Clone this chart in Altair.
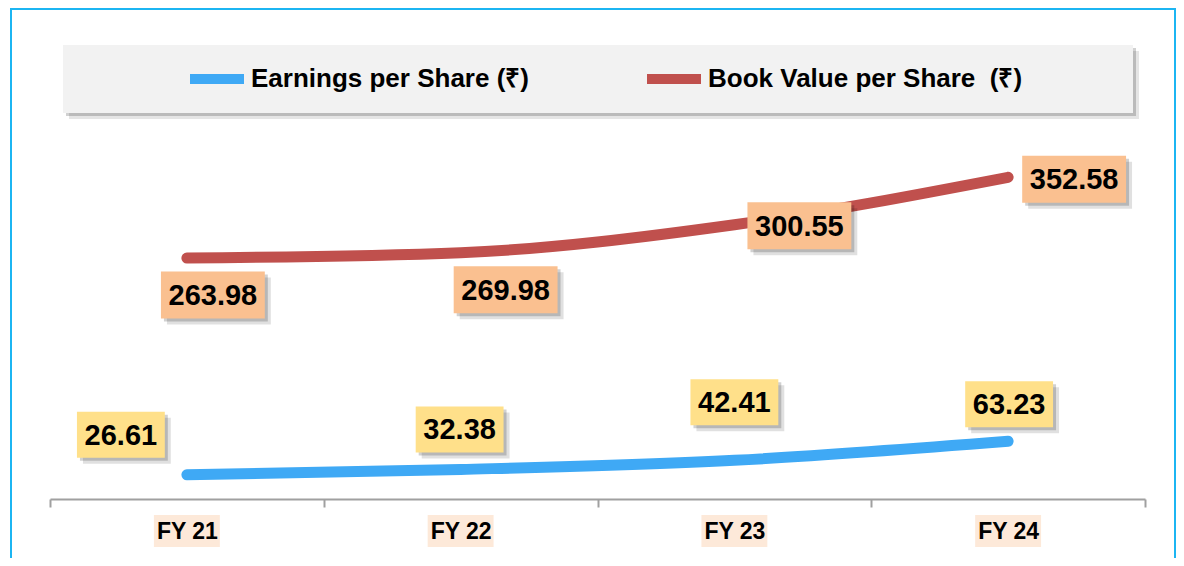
import altair as alt
import pandas as pd

# ---- data ----
categories = ["FY 21", "FY 22", "FY 23", "FY 24"]
eps_name = "Earnings per Share (₹)"
bvps_name = "Book Value per Share\u00a0 (₹)"
eps_values = [26.61, 32.38, 42.41, 63.23]
bvps_values = [263.98, 269.98, 300.55, 352.58]

# ---- layout (label offsets in pixels, not data) ----
eps_label_dx = [-66, -1, 0, 1]
eps_label_dy = [-40, -40, -58, -37]
bvps_label_dx = [26, 45, 65, 66]
bvps_label_dy = [37, 37, 1, 2]

BLUE = "#3FA9F5"
RED = "#C0504D"
EPS_BOX = "#FFE08A"
BVPS_BOX = "#FAC090"
FY_BOX = "#FDE9D9"
FONT = "Liberation Sans, Arial, sans-serif"

W, H = 1095, 365

rows = []
for i, c in enumerate(categories):
    rows.append(dict(cat=c, series=eps_name, value=eps_values[i],
                     label=f"{eps_values[i]:.2f}", dx=eps_label_dx[i], dy=eps_label_dy[i]))
for i, c in enumerate(categories):
    rows.append(dict(cat=c, series=bvps_name, value=bvps_values[i],
                     label=f"{bvps_values[i]:.2f}", dx=bvps_label_dx[i], dy=bvps_label_dy[i]))
df = pd.DataFrame(rows)
df_eps = df[df.series == eps_name]
df_bvps = df[df.series == bvps_name]

x_enc = alt.X("cat:N", sort=categories,
              scale=alt.Scale(paddingInner=0, paddingOuter=0),
              axis=alt.Axis(title=None, tickBand="extent", labelAngle=0,
                            domainColor="#A0A0A0", domainWidth=2,
                            tickColor="#A0A0A0", tickWidth=2, tickSize=8,
                            labelFont=FONT, labelFontSize=23, labelFontWeight="bold",
                            labelColor="black", labelBaseline="middle",
                            labelAlign="center",
                            labelPadding=24, zindex=1))
y_enc = alt.Y("value:Q", scale=alt.Scale(domain=[0, 400], nice=False, zero=True), axis=None)

one = alt.Data(values=[{"k": 1}])

# Outer frame
frame = alt.Chart(one).mark_rect(fill="transparent", stroke="#1CB5F2", strokeWidth=2).encode(
    x=alt.value(-39), x2=alt.value(1125), y=alt.value(-125), y2=alt.value(460))

# Legend background with shadow
leg_shadow2 = alt.Chart(one).mark_rect(fill="#000000", opacity=0.10).encode(
    x=alt.value(13 + 6), x2=alt.value(1083 + 6), y=alt.value(-89 + 6), y2=alt.value(-21 + 6))
leg_shadow1 = alt.Chart(one).mark_rect(fill="#000000", opacity=0.18).encode(
    x=alt.value(13 + 3), x2=alt.value(1083 + 3), y=alt.value(-89 + 3), y2=alt.value(-21 + 3))
leg_bg = alt.Chart(one).mark_rect(fill="#F2F2F2").encode(
    x=alt.value(13), x2=alt.value(1083), y=alt.value(-89), y2=alt.value(-21))

lines = alt.Chart(df).mark_line(interpolate="monotone", strokeWidth=11, strokeCap="round").encode(
    x=x_enc, y=y_enc,
    color=alt.Color("series:N",
                    scale=alt.Scale(domain=[eps_name, bvps_name], range=[BLUE, RED]),
                    legend=alt.Legend(orient="none", legendX=135, legendY=-87,
                                      direction="horizontal", title=None,
                                      symbolType="stroke", symbolSize=2916,
                                      symbolStrokeWidth=10, labelFont=FONT,
                                      labelFontSize=26, labelFontWeight="bold",
                                      labelColor="black", labelOffset=2,
                                      columnPadding=98, labelLimit=500)),
    detail="series:N")


def box_shape(half_w_ratio):
    a = half_w_ratio
    return f"M-{a},-1H{a}V1H-{a}Z"


def box_layers(d, fill, ratio, size):
    base = alt.Chart(d)
    sh2 = base.mark_point(shape=box_shape(ratio), size=size, filled=True, fill="#000000",
                          opacity=0.12, strokeWidth=0,
                          xOffset={"expr": "datum.dx + 6"}, yOffset={"expr": "datum.dy + 6"}
                          ).encode(x=alt.X("cat:N", sort=categories), y="value:Q")
    sh1 = base.mark_point(shape=box_shape(ratio), size=size, filled=True, fill="#000000",
                          opacity=0.18, strokeWidth=0,
                          xOffset={"expr": "datum.dx + 3"}, yOffset={"expr": "datum.dy + 3"}
                          ).encode(x=alt.X("cat:N", sort=categories), y="value:Q")
    bx = base.mark_point(shape=box_shape(ratio), size=size, filled=True, fill=fill,
                         opacity=1, strokeWidth=0,
                         xOffset={"expr": "datum.dx"}, yOffset={"expr": "datum.dy"}
                         ).encode(x=alt.X("cat:N", sort=categories), y="value:Q")
    tx = base.mark_text(font=FONT, fontSize=29, fontWeight="bold", color="black",
                        baseline="middle", align="center",
                        dx={"expr": "datum.dx"}, dy={"expr": "datum.dy + 1"}
                        ).encode(x=alt.X("cat:N", sort=categories), y="value:Q", text="label:N")
    return [sh2, sh1, bx, tx]


eps_boxes = box_layers(df_eps, EPS_BOX, 1.91, 2116)
bvps_boxes = box_layers(df_bvps, BVPS_BOX, 2.21, 2209)

fy_bg = alt.Chart(pd.DataFrame({"cat": categories})).mark_point(
    shape=box_shape(2.06), size=1024, filled=True, fill=FY_BOX, opacity=1, strokeWidth=0
).encode(x=alt.X("cat:N", sort=categories), y=alt.value(H + 32))

chart = alt.layer(
    frame, leg_shadow2, leg_shadow1, leg_bg, fy_bg, lines,
    *bvps_boxes, *eps_boxes
).resolve_scale(x="shared", y="shared").properties(
    width=W, height=H,
    background="white",
    autosize=alt.AutoSizeParams(type="none"),
    padding={"left": 42, "top": 126, "right": 31, "bottom": 59},
).configure_view(stroke=None)

chart.save("out.html", embed_options={"renderer": "svg", "actions": False})
